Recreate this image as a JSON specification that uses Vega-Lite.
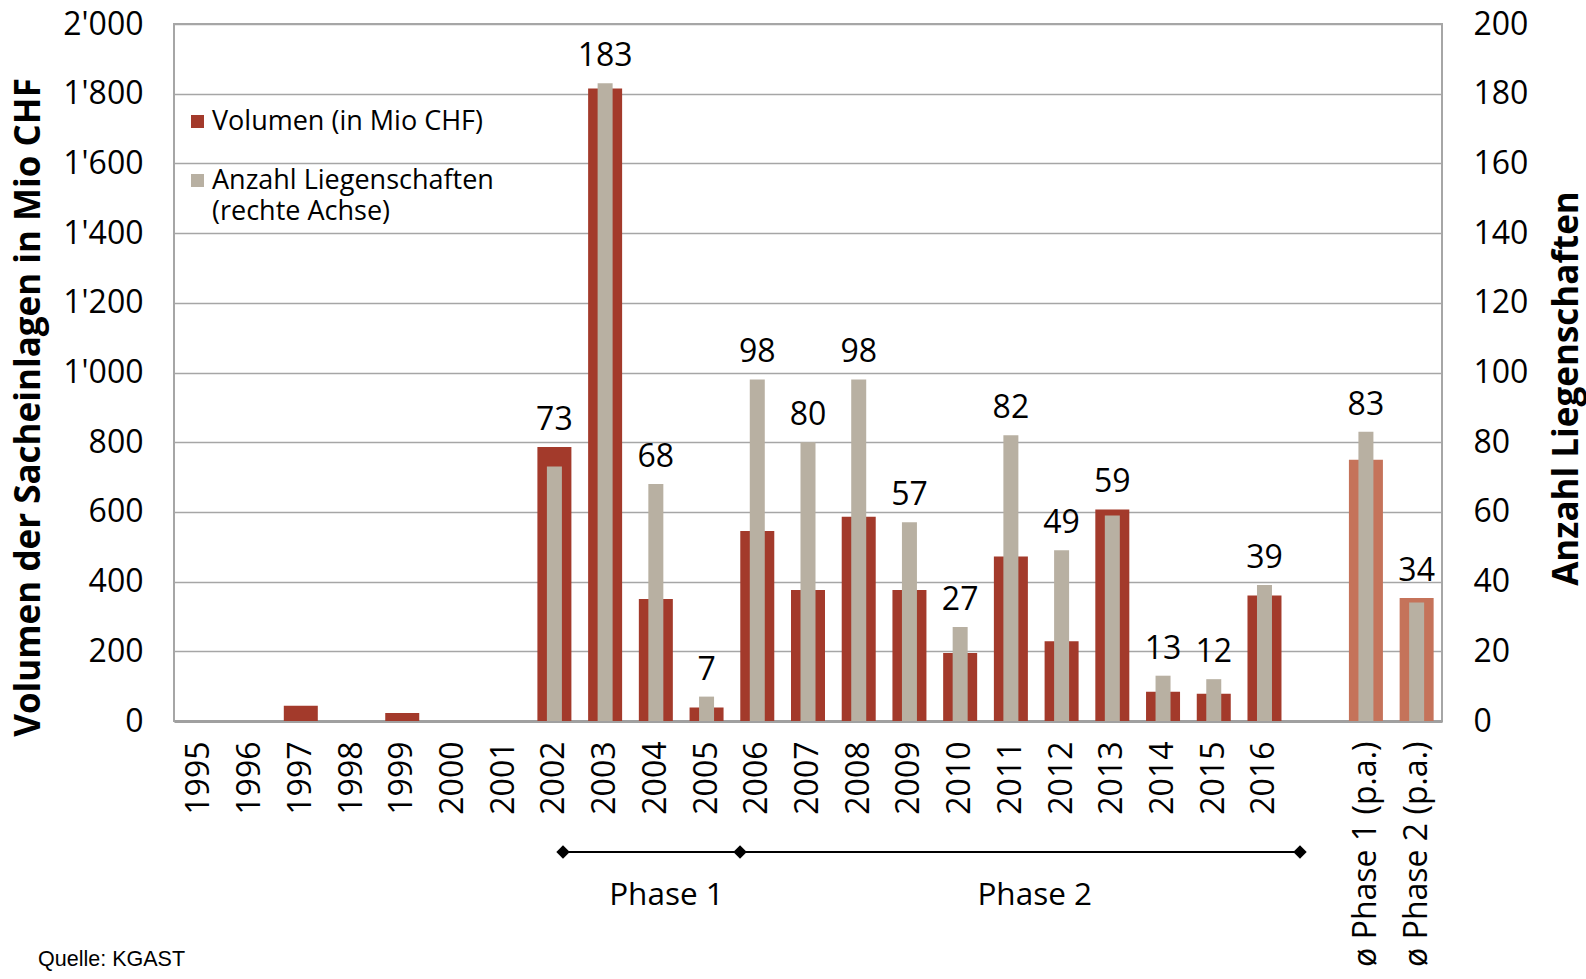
{
  "$schema": "https://vega.github.io/schema/vega-lite/v6.json",
  "width": 1268,
  "height": 697,
  "autosize": {"type": "none"},
  "padding": {"left": 174, "top": 24, "right": 144, "bottom": 258},
  "background": "white",
  "config": {
    "font": "Open Sans",
    "view": {"stroke": "#A6A6A6", "strokeWidth": 2},
    "axis": {"labelFont": "Open Sans", "titleFont": "Open Sans", "labelColor": "#000000", "titleColor": "#000000"},
    "style": {"guide-label": {"lineHeight": 31}}
  },
  "data": {
    "values": [
      {"cat": "1995", "vol": null, "count": null, "type": "year"},
      {"cat": "1996", "vol": null, "count": null, "type": "year"},
      {"cat": "1997", "vol": 44, "count": null, "type": "year"},
      {"cat": "1998", "vol": null, "count": null, "type": "year"},
      {"cat": "1999", "vol": 23, "count": null, "type": "year"},
      {"cat": "2000", "vol": null, "count": null, "type": "year"},
      {"cat": "2001", "vol": null, "count": null, "type": "year"},
      {"cat": "2002", "vol": 786, "count": 73, "type": "year"},
      {"cat": "2003", "vol": 1815, "count": 183, "type": "year"},
      {"cat": "2004", "vol": 350, "count": 68, "type": "year"},
      {"cat": "2005", "vol": 39, "count": 7, "type": "year"},
      {"cat": "2006", "vol": 545, "count": 98, "type": "year"},
      {"cat": "2007", "vol": 376, "count": 80, "type": "year"},
      {"cat": "2008", "vol": 586, "count": 98, "type": "year"},
      {"cat": "2009", "vol": 376, "count": 57, "type": "year"},
      {"cat": "2010", "vol": 195, "count": 27, "type": "year"},
      {"cat": "2011", "vol": 472, "count": 82, "type": "year"},
      {"cat": "2012", "vol": 229, "count": 49, "type": "year"},
      {"cat": "2013", "vol": 607, "count": 59, "type": "year"},
      {"cat": "2014", "vol": 84, "count": 13, "type": "year"},
      {"cat": "2015", "vol": 78, "count": 12, "type": "year"},
      {"cat": "2016", "vol": 360, "count": 39, "type": "year"},
      {"cat": "ø Phase 1 (p.a.)", "vol": 750, "count": 83, "type": "avg"},
      {"cat": "ø Phase 2 (p.a.)", "vol": 353, "count": 34, "type": "avg"}
    ]
  },
  "resolve": {"scale": {"x": "independent", "y": "independent"}},
  "layer": [
    {
      "mark": {"type": "bar", "size": 34},
      "encoding": {
        "x": {
          "field": "cat", "type": "nominal", "sort": null,
          "scale": {"type": "band", "paddingInner": 0, "paddingOuter": 0,
            "domain": ["1995","1996","1997","1998","1999","2000","2001","2002","2003","2004","2005","2006","2007","2008","2009","2010","2011","2012","2013","2014","2015","2016"," ","ø Phase 1 (p.a.)","ø Phase 2 (p.a.)"]},
          "axis": {"title": null, "labelAngle": -90, "labelFontSize": 32, "labelPadding": 20, "labelLimit": 400, "ticks": false, "domainColor": "#A0A0A0", "domainWidth": 3, "grid": false}
        },
        "y": {
          "field": "vol", "type": "quantitative",
          "scale": {"domain": [0, 2000], "nice": false},
          "axis": {"title": "Volumen der Sacheinlagen in Mio CHF", "values": [0,200,400,600,800,1000,1200,1400,1600,1800,2000],
            "labelExpr": "replace(format(datum.value, ','), ',', \"'\")",
            "labelFontSize": 32, "labelPadding": 31, "ticks": false, "domain": false,
            "grid": true, "gridColor": "#A6A6A6", "gridWidth": 1.5,
            "titleFontSize": 35, "titleFontWeight": "bold", "titleX": -146, "titleY": 383, "titleBaseline": "middle", "titleAngle": -90}
        },
        "color": {
          "condition": {"test": "datum.type === 'avg'", "value": "#C5735A"},
          "datum": "Volumen (in Mio CHF)",
          "scale": {"domain": ["Volumen (in Mio CHF)", "Anzahl Liegenschaften|(rechte Achse)"], "range": ["#A33A2B", "#B8B0A2"]},
          "legend": {"title": null, "orient": "none", "legendX": 10, "legendY": 84, "direction": "vertical",
            "labelExpr": "split(datum.label, '|')", "labelFontSize": 27, "labelFont": "Open Sans", "labelColor": "#000000",
            "symbolType": "square", "symbolSize": 170, "symbolStrokeWidth": 0, "labelOffset": 1, "rowPadding": 31, "labelLimit": 400}
        }
      }
    },
    {
      "mark": {"type": "bar", "size": 15},
      "encoding": {
        "x": {
          "field": "cat", "type": "nominal", "sort": null,
          "scale": {"type": "band", "paddingInner": 0, "paddingOuter": 0,
            "domain": ["1995","1996","1997","1998","1999","2000","2001","2002","2003","2004","2005","2006","2007","2008","2009","2010","2011","2012","2013","2014","2015","2016"," ","ø Phase 1 (p.a.)","ø Phase 2 (p.a.)"]},
          "axis": null
        },
        "y": {
          "field": "count", "type": "quantitative",
          "scale": {"domain": [0, 200], "nice": false},
          "axis": {"orient": "right", "title": "Anzahl Liegenschaften", "values": [0,20,40,60,80,100,120,140,160,180,200],
            "labelFontSize": 32, "labelPadding": 31, "ticks": false, "domain": false, "grid": false,
            "titleFontSize": 35, "titleFontWeight": "bold", "titleX": 124, "titleY": 364, "titleBaseline": "middle", "titleAngle": -90}
        },
        "color": {"datum": "Anzahl Liegenschaften|(rechte Achse)"}
      }
    },
    {
      "transform": [
        {"filter": "isValid(datum.count)"},
        {"calculate": "max(datum.vol / 10, datum.count)", "as": "labelPos"}
      ],
      "mark": {"type": "text", "fontSize": 32, "baseline": "alphabetic", "dy": -17, "color": "#000000", "font": "Open Sans"},
      "encoding": {
        "x": {
          "field": "cat", "type": "nominal", "sort": null,
          "scale": {"type": "band", "paddingInner": 0, "paddingOuter": 0,
            "domain": ["1995","1996","1997","1998","1999","2000","2001","2002","2003","2004","2005","2006","2007","2008","2009","2010","2011","2012","2013","2014","2015","2016"," ","ø Phase 1 (p.a.)","ø Phase 2 (p.a.)"]},
          "axis": null
        },
        "y": {"field": "labelPos", "type": "quantitative", "scale": {"domain": [0, 200], "nice": false}, "axis": null},
        "text": {"field": "count", "type": "quantitative"}
      }
    },
    {
      "data": {"values": [{"from": 7.67, "to": 22.2, "level": -37.6}]},
      "mark": {"type": "rule", "color": "#000000", "strokeWidth": 2},
      "encoding": {
        "x": {"field": "from", "type": "quantitative", "scale": {"domain": [0, 25], "nice": false, "zero": false}, "axis": null},
        "x2": {"field": "to"},
        "y": {"field": "level", "type": "quantitative", "scale": {"domain": [0, 200], "nice": false}, "axis": null}
      }
    },
    {
      "data": {"values": [{"pos": 7.67, "level": -37.6}, {"pos": 11.16, "level": -37.6}, {"pos": 22.2, "level": -37.6}]},
      "mark": {"type": "point", "shape": "diamond", "filled": true, "color": "#000000", "size": 180, "opacity": 1},
      "encoding": {
        "x": {"field": "pos", "type": "quantitative", "scale": {"domain": [0, 25], "nice": false, "zero": false}, "axis": null},
        "y": {"field": "level", "type": "quantitative", "scale": {"domain": [0, 200], "nice": false}, "axis": null}
      }
    },
    {
      "data": {"values": [{"pos": 9.71, "level": -50.2, "label": "Phase 1"}, {"pos": 16.97, "level": -50.2, "label": "Phase 2"}]},
      "mark": {"type": "text", "fontSize": 31.5, "baseline": "middle", "align": "center", "color": "#000000", "font": "Open Sans"},
      "encoding": {
        "x": {"field": "pos", "type": "quantitative", "scale": {"domain": [0, 25], "nice": false, "zero": false}, "axis": null},
        "y": {"field": "level", "type": "quantitative", "scale": {"domain": [0, 200], "nice": false}, "axis": null},
        "text": {"field": "label"}
      }
    },
    {
      "data": {"values": [{"pos": -2.68, "level": -68.6, "label": "Quelle: KGAST"}]},
      "mark": {"type": "text", "fontSize": 21.5, "baseline": "middle", "align": "left", "color": "#000000", "font": "Liberation Sans"},
      "encoding": {
        "x": {"field": "pos", "type": "quantitative", "scale": {"domain": [0, 25], "nice": false, "zero": false}, "axis": null},
        "y": {"field": "level", "type": "quantitative", "scale": {"domain": [0, 200], "nice": false}, "axis": null},
        "text": {"field": "label"}
      }
    }
  ]
}
